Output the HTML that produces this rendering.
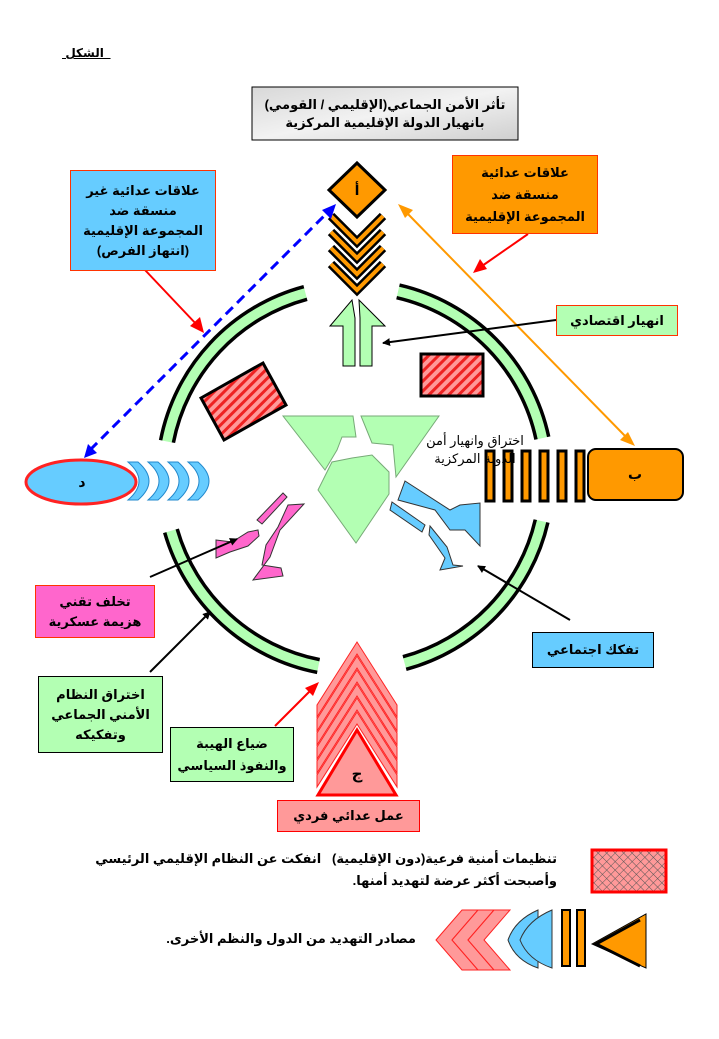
<!DOCTYPE html>
<html><head><meta charset="utf-8"><style>
body{margin:0;width:719px;height:1039px;background:#fff;position:relative;overflow:hidden;font-family:"Liberation Sans","DejaVu Sans",sans-serif;}
.b{position:absolute;box-sizing:border-box;display:flex;align-items:center;justify-content:center;text-align:center;direction:rtl;font-weight:bold;font-size:13px;line-height:18px;}
.t{position:absolute;direction:rtl;font-weight:bold;font-size:13px;line-height:18px;white-space:nowrap;}
svg{position:absolute;left:0;top:0;}
</style></head><body>
<svg width="719" height="1039" viewBox="0 0 719 1039">
<defs>
<pattern id="h" width="7" height="7" patternUnits="userSpaceOnUse" patternTransform="rotate(45)"><rect width="7" height="7" fill="#ff9999"/><rect width="3" height="7" fill="#ee2222"/></pattern>
<pattern id="x" width="6" height="6" patternUnits="userSpaceOnUse" patternTransform="rotate(45)"><rect width="6" height="6" fill="#ff9999"/><path d="M0 0H6M0 0V6" stroke="#555" stroke-width="1"/></pattern>
<linearGradient id="m" x1="0" y1="0" x2="1" y2="1"><stop offset="0" stop-color="#d8d8d8"/><stop offset=".5" stop-color="#f2f2f2"/><stop offset="1" stop-color="#cfcfcf"/></linearGradient>
<marker id="ak" markerWidth="8" markerHeight="8" refX="7" refY="4" orient="auto" markerUnits="userSpaceOnUse" viewBox="0 0 8 8"><path d="M0 0L8 4L0 8z" fill="#000"/></marker>
</defs>
<g fill="#b3ffb3">
<path d="M160.6 440.2A198 198 0 0 1 303.8 286.7L307.1 299.3A185 185 0 0 0 173.4 442.7Z"/>
<path d="M399.5 285.1A198 198 0 0 1 548.7 436.8L536 439.5A185 185 0 0 0 396.6 297.7Z"/>
<path d="M317.2 672.4A198 198 0 0 1 164.7 532.6L177.2 529A185 185 0 0 0 319.7 659.6Z"/>
<path d="M547.9 522.5A198 198 0 0 1 406.2 669.3L402.9 656.7A185 185 0 0 0 535.3 519.6Z"/>
</g>
<g fill="none" stroke="#000" stroke-width="3.5">
<path d="M160.6 440.2A198 198 0 0 1 303.8 286.7M307.1 299.3A185 185 0 0 0 173.4 442.7"/>
<path d="M399.5 285.1A198 198 0 0 1 548.7 436.8M536 439.5A185 185 0 0 0 396.6 297.7"/>
<path d="M317.2 672.4A198 198 0 0 1 164.7 532.6M177.2 529A185 185 0 0 0 319.7 659.6"/>
<path d="M547.9 522.5A198 198 0 0 1 406.2 669.3M402.9 656.7A185 185 0 0 0 535.3 519.6"/>
</g>
<g fill="none" stroke-linejoin="miter">
<g stroke="#000" stroke-width="9"><polyline points="331,216 357,242 383,216"/><polyline points="331,232 357,258 383,232"/><polyline points="331,248 357,274 383,248"/><polyline points="331,264 357,290 383,264"/></g>
<g stroke="#ff9900" stroke-width="4"><polyline points="331,216 357,242 383,216"/><polyline points="331,232 357,258 383,232"/><polyline points="331,248 357,274 383,248"/><polyline points="331,264 357,290 383,264"/></g>
</g>
<polygon points="357,163 385,190 357,217 329,190" fill="#ff9900" stroke="#000" stroke-width="3"/>
<polygon points="330,326 343,326 343,366 355,366 355,318 352,300" fill="#b3ffb3" stroke="#000" stroke-width="1"/>
<polygon points="359,300 385,326 372,326 372,366 360,366 360,318" fill="#b3ffb3" stroke="#000" stroke-width="1"/>
<polygon points="201,398 263,363 286,405 224,440" fill="url(#h)" stroke="#000" stroke-width="3"/>
<rect x="421" y="354" width="62" height="42" fill="url(#h)" stroke="#000" stroke-width="3"/>
<polygon points="283,416 353,416 356,437 342,437 337,450 325,470" fill="#b3ffb3" stroke="#7a7" stroke-width="1"/>
<polygon points="361,416 439,416 396,477 393,445 372,443" fill="#b3ffb3" stroke="#7a7" stroke-width="1"/>
<polygon points="318,490 332,462 352,458 372,455 389,472 389,494 356,543" fill="#b3ffb3" stroke="#7a7" stroke-width="1"/>
<polygon points="257,520 283,493 287,497 262,524" fill="#ff66cc" stroke="#333" stroke-width="1"/>
<polygon points="253,580 283,576 281,568 262,565 266,545 278,527 288,505 304,504 280,530 270,557" fill="#ff66cc" stroke="#333" stroke-width="1"/>
<polygon points="216,540 232,542 248,532 258,530 259,536 248,546 230,552 216,558" fill="#ff66cc" stroke="#333" stroke-width="1"/>
<polygon points="405,481 450,510 460,505 480,503 480,546 465,530 450,530 435,510 398,500" fill="#66ccff" stroke="#333" stroke-width="1"/>
<polygon points="392,502 425,525 422,532 390,510" fill="#66ccff" stroke="#333" stroke-width="1"/>
<polygon points="430,526 447,547 453,565 463,566 440,570 445,558 429,535" fill="#66ccff" stroke="#333" stroke-width="1"/>
<g fill="#66ccff" stroke="#2288cc" stroke-width="1">
<path d="M128,462 Q150,481 128,500 L138,500 Q160,481 138,462Z"/>
<path d="M148,462 Q170,481 148,500 L158,500 Q180,481 158,462Z"/>
<path d="M168,462 Q190,481 168,500 L178,500 Q200,481 178,462Z"/>
<path d="M188,462 Q210,481 188,500 L198,500 Q220,481 198,462Z"/>
</g>
<ellipse cx="81" cy="482" rx="55" ry="22" fill="#66ccff" stroke="#ff2222" stroke-width="3"/>
<g fill="#ff9900" stroke="#000" stroke-width="3">
<rect x="486" y="451" width="8" height="50"/><rect x="504" y="451" width="8" height="50"/><rect x="522" y="451" width="8" height="50"/><rect x="540" y="451" width="8" height="50"/><rect x="558" y="451" width="8" height="50"/><rect x="576" y="451" width="8" height="50"/>
</g>
<rect x="588" y="449" width="95" height="51" rx="8" fill="#ff9900" stroke="#000" stroke-width="2"/>
<g fill="#ff9999" stroke="#ff2222" stroke-width="1">
<polygon points="317,705 357,642 397,705 397,717 357,654 317,717"/>
<polygon points="317,719 357,656 397,719 397,731 357,668 317,731"/>
<polygon points="317,733 357,670 397,733 397,745 357,682 317,745"/>
<polygon points="317,747 357,684 397,747 397,759 357,696 317,759"/>
<polygon points="317,761 357,698 397,761 397,773 357,710 317,773"/>
<polygon points="317,775 357,712 397,775 397,787 357,724 317,787"/>
</g>
<polygon points="318,795 396,795 357,730" fill="#ff9999" stroke="#ff0000" stroke-width="3"/>
<line x1="90" y1="450" x2="328" y2="212" stroke="#0000ff" stroke-width="3" stroke-dasharray="10,6"/>
<polygon points="84,458 88,444 97,453" fill="#0000ff"/>
<polygon points="336,204 331,219 322,210" fill="#0000ff"/>
<line x1="406" y1="212" x2="627" y2="438" stroke="#ff9900" stroke-width="2"/>
<polygon points="398,204 413,210 405,218" fill="#ff9900"/>
<polygon points="635,446 620,440 628,432" fill="#ff9900"/>
<line x1="145" y1="270" x2="198" y2="326" stroke="#ff0000" stroke-width="2"/><polygon points="204,333 190,326 200,317" fill="#ff0000"/>
<line x1="528" y1="234" x2="482" y2="266" stroke="#ff0000" stroke-width="2"/><polygon points="473,273 480,259 487,269" fill="#ff0000"/>
<line x1="275" y1="726" x2="312" y2="689" stroke="#ff0000" stroke-width="2"/><polygon points="319,682 313,696 305,688" fill="#ff0000"/>
<line x1="556" y1="320" x2="383" y2="343" stroke="#000" stroke-width="2" marker-end="url(#ak)"/>
<line x1="150" y1="577" x2="237" y2="539" stroke="#000" stroke-width="2" marker-end="url(#ak)"/>
<line x1="150" y1="672" x2="210" y2="612" stroke="#000" stroke-width="2" marker-end="url(#ak)"/>
<line x1="570" y1="620" x2="478" y2="566" stroke="#000" stroke-width="2" marker-end="url(#ak)"/>
<rect x="252" y="87" width="266" height="53" fill="url(#m)" stroke="#000" stroke-width="1"/>
<rect x="592" y="850" width="74" height="42" fill="url(#x)" stroke="#ff0000" stroke-width="3"/>
<g fill="#ff9999" stroke="#ff2222" stroke-width="1">
<polygon points="436,940 462,910 478,910 452,940 478,970 462,970"/>
<polygon points="452,940 478,910 494,910 468,940 494,970 478,970"/>
<polygon points="468,940 494,910 510,910 484,940 510,970 494,970"/>
</g>
<path d="M538,910 Q515,920 508,940 Q515,960 538,968Z" fill="#66ccff" stroke="#333" stroke-width="1"/>
<path d="M552,910 Q528,920 520,940 Q528,960 552,968Z" fill="#66ccff" stroke="#333" stroke-width="1"/>
<rect x="562" y="910" width="8" height="56" fill="#ff9900" stroke="#000" stroke-width="2"/>
<rect x="577" y="910" width="8" height="56" fill="#ff9900" stroke="#000" stroke-width="2"/>
<polygon points="592,944 646,914 646,968" fill="#ff9900" stroke="#000" stroke-width="1"/>
<polyline points="640,920 596,944 640,966" fill="none" stroke="#000" stroke-width="3"/>
</svg>

<div class="t" style="left:62px;top:44px;font-size:12px;text-decoration:underline;">&nbsp;&nbsp;الشكل&nbsp;</div>
<div class="b" style="left:252px;top:87px;width:266px;height:53px;">تأثر الأمن الجماعي(الإقليمي / القومي)<br>بانهيار الدولة الإقليمية المركزية</div>
<div class="b" style="left:70px;top:170px;width:146px;height:101px;background:#66ccff;border:1px solid #ff3300;line-height:20px;">علاقات عدائية غير<br>منسقة ضد<br>المجموعة الإقليمية<br>(انتهاز الفرص)</div>
<div class="b" style="left:452px;top:155px;width:146px;height:79px;background:#ff9900;border:1px solid #ff3300;line-height:22px;">علاقات عدائية<br>منسقة ضد<br>المجموعة الإقليمية</div>
<div class="b" style="left:344px;top:175px;width:26px;height:30px;font-size:14px;">أ</div>
<div class="b" style="left:556px;top:305px;width:122px;height:31px;background:#b3ffb3;border:1px solid #ff3300;">انهيار اقتصادي</div>
<div class="b" style="left:420px;top:430px;width:110px;height:40px;font-weight:normal;">اختراق وانهيار أمن<br>الدولة المركزية</div>
<div class="b" style="left:60px;top:470px;width:44px;height:24px;font-size:14px;">د</div>
<div class="b" style="left:610px;top:460px;width:50px;height:28px;font-size:14px;">ب</div>
<div class="b" style="left:35px;top:585px;width:120px;height:53px;background:#ff66cc;border:1px solid #ff3300;line-height:20px;">تخلف تقني<br>هزيمة عسكرية</div>
<div class="b" style="left:532px;top:632px;width:122px;height:36px;background:#66ccff;border:1px solid #000;">تفكك اجتماعي</div>
<div class="b" style="left:38px;top:676px;width:125px;height:77px;background:#b3ffb3;border:1px solid #000;line-height:20px;">اختراق النظام<br>الأمني الجماعي<br>وتفكيكه</div>
<div class="b" style="left:170px;top:727px;width:124px;height:55px;background:#b3ffb3;border:1px solid #000;line-height:22px;">ضياع الهيبة<br>والنفوذ السياسي</div>
<div class="b" style="left:340px;top:760px;width:34px;height:30px;font-size:15px;">ج</div>
<div class="b" style="left:277px;top:800px;width:143px;height:32px;background:#ff9999;border:1px solid #ff0000;">عمل عدائي فردي</div>
<div class="t" style="right:162px;top:848px;text-align:right;line-height:22px;">تنظيمات أمنية فرعية(دون الإقليمية)&nbsp;&nbsp; انفكت عن النظام الإقليمي الرئيسي<br>وأصبحت أكثر عرضة لتهديد أمنها.</div>
<div class="t" style="right:303px;top:930px;text-align:right;">مصادر التهديد من الدول والنظم الأخرى.</div>
</body></html>
